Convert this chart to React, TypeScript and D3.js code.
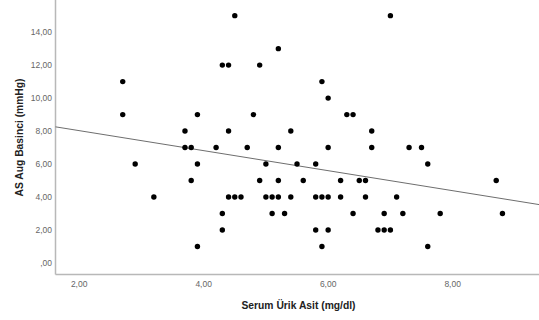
import React from "react";
import * as d3 from "d3";

const uricAcid: number[] = [
  2.7, 2.7, 2.9, 3.2,
  4.5, 5.2, 4.3, 4.4, 4.9, 7.0,
  5.9, 6.0,
  3.9, 4.8, 6.3, 6.4,
  3.7, 4.4, 5.4, 6.7,
  3.7, 3.8, 4.2, 4.7, 5.2, 6.0, 6.7, 7.3, 7.5,
  3.9, 5.0, 5.5, 5.8, 7.6,
  3.8, 4.9, 5.2, 5.6, 6.2, 6.5, 6.6, 8.7,
  4.4, 4.5, 4.6, 5.0, 5.1, 5.2, 5.4, 5.8, 5.9, 6.0, 6.2, 6.6, 7.1,
  4.3, 5.1, 5.3, 6.4, 6.9, 7.2, 7.8, 8.8,
  4.3, 5.8, 6.0, 6.8, 6.9, 7.0,
  3.9, 5.9, 7.6,
];
const aortaPressure: number[] = [
  11, 9, 6, 4,
  15, 13, 12, 12, 12, 15,
  11, 10,
  9, 9, 9, 9,
  8, 8, 8, 8,
  7, 7, 7, 7, 7, 7, 7, 7, 7,
  6, 6, 6, 6, 6,
  5, 5, 5, 5, 5, 5, 5, 5,
  4, 4, 4, 4, 4, 4, 4, 4, 4, 4, 4, 4, 4,
  3, 3, 3, 3, 3, 3, 3, 3,
  2, 2, 2, 2, 2, 2,
  1, 1, 1,
];

const xTicks: number[] = [2, 4, 6, 8];
const yTicks: number[] = [0, 2, 4, 6, 8, 10, 12, 14];
const xDomain: number[] = [1.62, 9.4];
const yDomain: number[] = [-0.7, 15.95];
const fitIntercept = 9.24;
const fitSlope = -0.607;

const W = 539;
const H = 320;

const fmt = (v: number) => {
  const s = v.toFixed(2).replace(".", ",");
  return s.startsWith("0,") ? s.slice(1) : s;
};

export default function App() {
  const x = d3.scaleLinear().domain(xDomain).range([55.5, 539.8]);
  const y = d3.scaleLinear().domain(yDomain).range([274.5, 0]);
  const pts = uricAcid.map((u, i) => [u, aortaPressure[i]] as [number, number]);
  const fitLine = d3
    .line<number>()
    .x((d) => x(d))
    .y((d) => y(fitIntercept + fitSlope * d));
  const font = "'Liberation Sans', Arial, sans-serif";
  return (
    <svg
      width={W}
      height={H}
      style={{ position: "absolute", left: 0, top: 0, display: "block", background: "#fff" }}
      fontFamily={font}
    >
      <rect x={0} y={0} width={W} height={H} fill="#fff" />
      {/* axes */}
      <line x1={55.5} y1={0} x2={55.5} y2={274.5} stroke="#b8b8b8" strokeWidth={1.5} />
      <line x1={55.5} y1={274.5} x2={W} y2={274.5} stroke="#b8b8b8" strokeWidth={1.5} />
      {yTicks.map((t) => (
        <text key={"y" + t} x={52} y={y(t) + 3} textAnchor="end" fontSize={8.5} fill="#666">
          {fmt(t)}
        </text>
      ))}
      {xTicks.map((t) => (
        <text key={"x" + t} x={x(t)} y={287} textAnchor="middle" fontSize={8.5} fill="#666">
          {fmt(t)}
        </text>
      ))}
      {/* fit line */}
      <path d={fitLine(xDomain) || ""} stroke="#6e6e6e" strokeWidth={1} fill="none" />
      {/* points */}
      {pts.map((p, i) => (
        <circle key={i} cx={x(p[0])} cy={y(p[1])} r={2.7} fill="#000" />
      ))}
      <text x={298.5} y={308.5} textAnchor="middle" fontSize={10.3} fontWeight="bold" fill="#222">
        Serum Ürik Asit (mg/dl)
      </text>
      <text
        transform={`translate(23, 137.5) rotate(-90)`}
        textAnchor="middle"
        fontSize={10.3}
        fontWeight="bold"
        fill="#222"
      >
        AS Aug Basinci (mmHg)
      </text>
    </svg>
  );
}
